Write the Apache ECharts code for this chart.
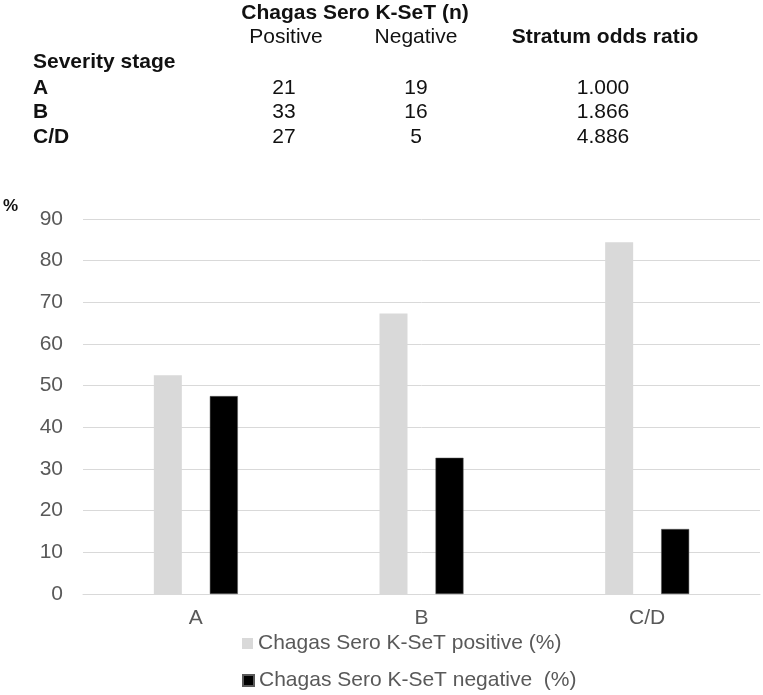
<!DOCTYPE html>
<html><head><meta charset="utf-8">
<script src="https://cdn.jsdelivr.net/npm/echarts@6/dist/echarts.min.js"></script>
<style>html,body{margin:0;padding:0;background:#fff}#c{width:763px;height:695px}</style>
</head><body><div id="c"></div>
<script>
const categories = ['A', 'B', 'C/D'];
const positivePct = [52.5, 67.3, 84.4];
const negativePct = [47.5, 32.7, 15.6];
const positiveN = ['21', '33', '27'];
const negativeN = ['19', '16', '5'];
const oddsRatio = ['1.000', '1.866', '4.886'];
const seriesNames = ['Chagas Sero K-SeT positive (%)', 'Chagas Sero K-SeT negative  (%)'];

const tf = '"Liberation Sans", Arial, sans-serif';
const g = [];
function txt(x, y, s, bold, align) {
  g.push({type:'text', x:x, y:y, style:{text:s, font:(bold?'bold ':'')+'21px '+tf, fill:'#111', textAlign:align||'left', textVerticalAlign:'middle'}});
}
txt(355, 13, 'Chagas Sero K-SeT (n)', true, 'center');
txt(286, 37, 'Positive', false, 'center');
txt(416, 37, 'Negative', false, 'center');
txt(605, 37, 'Stratum odds ratio', true, 'center');
txt(33, 62, 'Severity stage', true);
categories.forEach((c, i) => {
  const y = 88 + i * 24.7;
  txt(33, y, c, true);
  txt(284, y, positiveN[i], false, 'center');
  txt(416, y, negativeN[i], false, 'center');
  txt(603, y, oddsRatio[i], false, 'center');
});
g.push({type:'text', x:3, y:206, style:{text:'%', font:'bold 17px '+tf, fill:'#111', textVerticalAlign:'middle'}});

const legendBase = {orient:'horizontal', left:242, padding:0, itemWidth:11, itemHeight:11, icon:'rect',
  textStyle:{fontSize:21, color:'#595959', fontFamily:tf}};
const chart = echarts.init(document.getElementById('c'));
chart.setOption({
  animation:false,
  graphic:g,
  grid:{left:83, right:3, top:219, bottom:101, containLabel:false},
  legend:[
    Object.assign({}, legendBase, {top:633, data:[seriesNames[0]]}),
    Object.assign({}, legendBase, {top:670, data:[seriesNames[1]]})
  ],
  xAxis:{type:'category', data:categories, axisTick:{show:false},
    axisLine:{lineStyle:{color:'#d9d9d9', width:1}},
    axisLabel:{fontSize:21, color:'#595959', margin:14, fontFamily:tf}},
  yAxis:{type:'value', min:0, max:90, interval:10, axisLine:{show:false}, axisTick:{show:false},
    splitLine:{lineStyle:{color:'#d9d9d9', width:1}},
    axisLabel:{fontSize:21, color:'#595959', margin:20, fontFamily:tf}},
  series:[
    {name:seriesNames[0], type:'bar', data:positivePct, barWidth:28, barGap:'100%', itemStyle:{color:'#d9d9d9'}},
    {name:seriesNames[1], type:'bar', data:negativePct, barWidth:28, itemStyle:{color:'#000', borderColor:'#595959', borderWidth:0.5}}
  ]
});
</script></body></html>
